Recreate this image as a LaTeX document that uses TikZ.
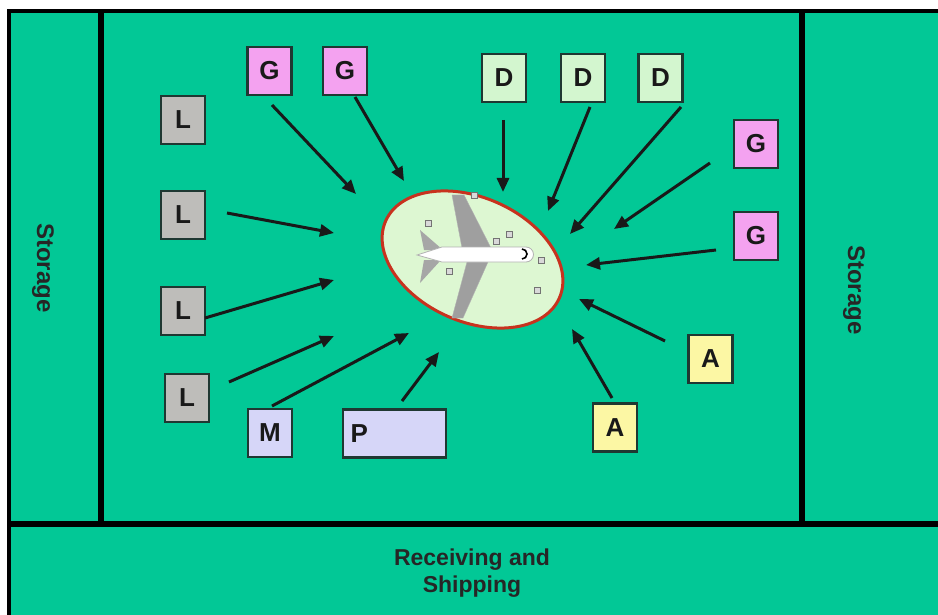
\documentclass[tikz,border=0pt]{standalone}
\usepackage{fontspec}
\setmainfont{Liberation Sans}
\usetikzlibrary{arrows.meta,shapes.geometric}
\definecolor{floor}{HTML}{02C896}
\definecolor{gbox}{HTML}{F4A2F0}
\definecolor{lbox}{HTML}{BEBDBA}
\definecolor{dbox}{HTML}{D3F6CF}
\definecolor{abox}{HTML}{FCF7A4}
\definecolor{mbox}{HTML}{D6D6F8}
\definecolor{boxline}{HTML}{1F3832}
\definecolor{zone}{HTML}{DDF7D2}
\definecolor{rim}{HTML}{C8321E}
\tikzset{
  cell/.style={draw=boxline, line width=2.2pt, minimum width=44pt, minimum height=48pt,
    inner sep=0pt, font=\fontsize{26}{28}\selectfont\bfseries, text=black!90},
  feed/.style={line width=3pt, draw=black!90, -{Triangle[length=14pt,width=12pt]}},
  wall/.style={line width=6pt, draw=black},
  label/.style={font=\fontsize{24}{26}\selectfont\bfseries, text=black!85, align=center},
  crate/.style={draw=black!55, fill=black!15, line width=0.6pt, minimum size=6pt, inner sep=0pt}
}
\begin{document}
\begin{tikzpicture}[x=1pt, y=-1pt]
\useasboundingbox (0,0) rectangle (938,615);
\fill[white] (0,0) rectangle (938,615);
% floor plan
\fill[floor] (8,10) rectangle (940,617);
\draw[line width=4pt] (9,620) -- (9,11) -- (940,11);
\draw[wall] (101,11) -- (101,524);
\draw[wall] (802,11) -- (802,524);
\draw[wall] (8,524) -- (940,524);
\node[label, rotate=-90] (storeL) at (43,268) {Storage};
\node[label, rotate=-90] (storeR) at (854,290) {Storage};
\node[label, font=\fontsize{23}{27}\selectfont\bfseries] (recv) at (472,573) {Receiving and\\Shipping};

% assembly zone with the aircraft
\node[draw=rim, fill=zone, line width=3pt, ellipse, minimum width=190pt, minimum height=124pt,
  inner sep=0pt, rotate=-24] (zone) at (472.5,259.5) {};
\begin{scope}
  % wings
  \fill[gray!75, draw=gray!60] (452,195) -- (464,195) -- (491,248) -- (462,248) -- cycle;
  \fill[gray!75, draw=gray!60] (467,262) -- (488,262) -- (463,318) -- (452,318) -- cycle;
  % tailplanes
  \fill[gray!70] (420,230) -- (443,250) -- (424,250) -- cycle;
  \fill[gray!70] (420,283) -- (441,260) -- (424,260) -- cycle;
  % fuselage
  \draw[fill=white, draw=gray!60, line width=0.8pt]
    (417,255) -- (442,247) -- (526,247) arc (-90:90:7.5) -- (442,262) -- cycle;
  \draw[line width=1.6pt] (522,249) arc (-90:90:5);
\end{scope}
\node[crate] (c1) at (428,223) {};
\node[crate] (c2) at (474,195) {};
\node[crate] (c3) at (496,241) {};
\node[crate] (c4) at (509,234) {};
\node[crate] (c5) at (541,260) {};
\node[crate] (c6) at (537,290) {};
\node[crate] (c7) at (449,271) {};

% stations
\node[cell, fill=gbox] (g1) at (269.5,71) {G};
\node[cell, fill=gbox] (g2) at (345,71) {G};
\node[cell, fill=dbox] (d1) at (504,78) {D};
\node[cell, fill=dbox] (d2) at (583,78) {D};
\node[cell, fill=dbox] (d3) at (660.5,78) {D};
\node[cell, fill=gbox] (g3) at (756,144) {G};
\node[cell, fill=gbox] (g4) at (756,236) {G};
\node[cell, fill=lbox] (l1) at (183,120) {L};
\node[cell, fill=lbox] (l2) at (183,215) {L};
\node[cell, fill=lbox] (l3) at (183,311) {L};
\node[cell, fill=lbox] (l4) at (187,398) {L};
\node[cell, fill=mbox] (m) at (270,433) {M};
\node[cell, fill=mbox, minimum width=103pt, text width=88pt, align=left] (p) at (394.5,433.5) {P};
\node[cell, fill=abox] (a1) at (710.5,359) {A};
\node[cell, fill=abox] (a2) at (615,427.5) {A};

% flows into the zone
\coordinate (sg1) at (272,105); \coordinate (tg1) at (356,194);
\coordinate (sg2) at (355,97);  \coordinate (tg2) at (404,181);
\coordinate (sd1) at (503,120); \coordinate (td1) at (503,192);
\coordinate (sd2) at (590,107); \coordinate (td2) at (548,211);
\coordinate (sd3) at (681,107); \coordinate (td3) at (570,234);
\coordinate (sg3) at (710,163); \coordinate (tg3) at (614,229);
\coordinate (sg4) at (716,250); \coordinate (tg4) at (586,265);
\coordinate (sl2) at (227,213); \coordinate (tl2) at (334,233);
\coordinate (sl3) at (205,318); \coordinate (tl3) at (334,280);
\coordinate (sl4) at (229,382); \coordinate (tl4) at (334,336);
\coordinate (sm) at (272,406);  \coordinate (tm) at (409,333);
\coordinate (sp) at (402,401);  \coordinate (tp) at (439,352);
\coordinate (sa1) at (665,341); \coordinate (ta1) at (579,299);
\coordinate (sa2) at (612,398); \coordinate (ta2) at (572,329);
\foreach \s/\t in {sg1/tg1, sg2/tg2, sd1/td1, sd2/td2, sd3/td3, sg3/tg3, sg4/tg4,
                   sl2/tl2, sl3/tl3, sl4/tl4, sm/tm, sp/tp, sa1/ta1, sa2/ta2}
  \draw[feed] (\s) -- (\t);
\end{tikzpicture}
\end{document}
